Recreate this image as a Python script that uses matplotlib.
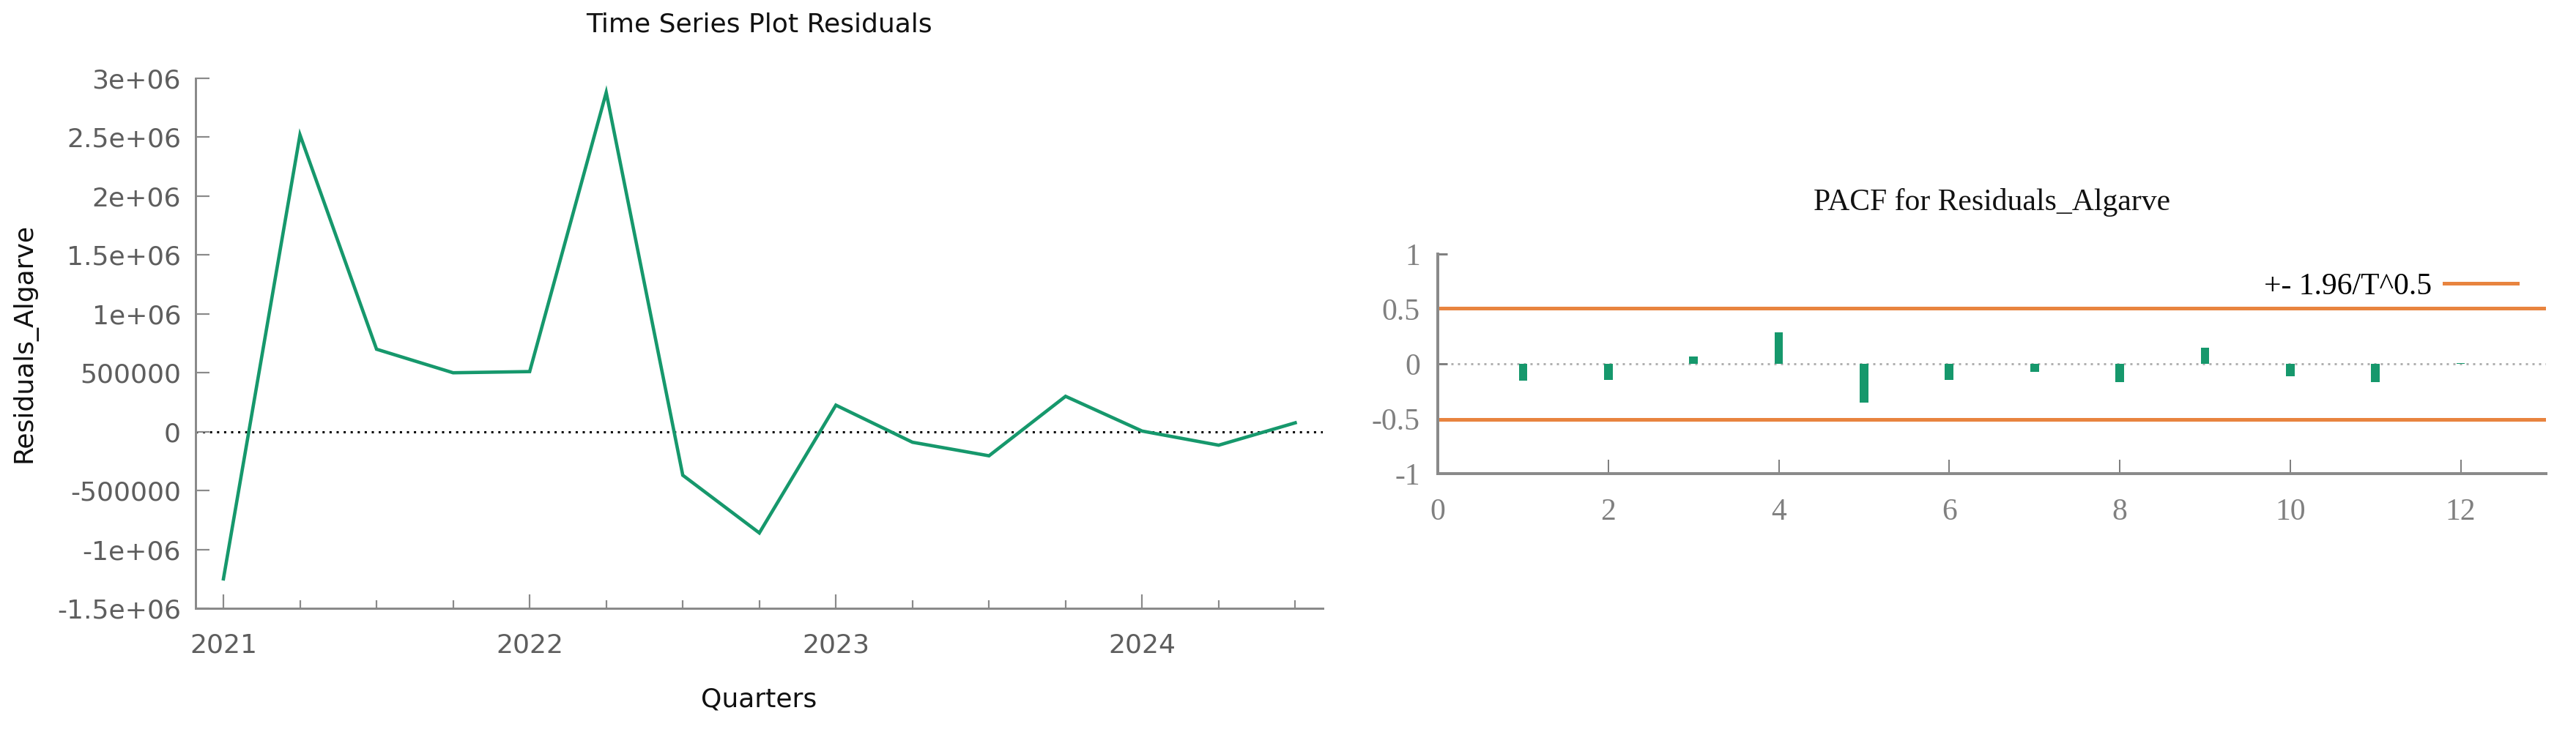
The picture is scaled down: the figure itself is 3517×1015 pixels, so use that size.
import numpy as np
import matplotlib
matplotlib.use("Agg")
import matplotlib.pyplot as plt
from matplotlib.ticker import FixedLocator

# ======================
# data
# ======================
quarters = [2021.0, 2021.25, 2021.5, 2021.75,
            2022.0, 2022.25, 2022.5, 2022.75,
            2023.0, 2023.25, 2023.5, 2023.75,
            2024.0, 2024.25, 2024.5]
residuals = [-1250000, 2520000, 700000, 500000,
             510000, 2880000, -370000, -860000,
             225000, -90000, -205000, 300000,
             5000, -115000, 75000]

year_ticks = [2021, 2022, 2023, 2024]
res_yticks = [-1.5e6, -1e6, -5e5, 0, 5e5, 1e6, 1.5e6, 2e6, 2.5e6, 3e6]
res_ylabels = ["-1.5e+06", "-1e+06", "-500000", "0", "500000",
               "1e+06", "1.5e+06", "2e+06", "2.5e+06", "3e+06"]

lags = [1, 2, 3, 4, 5, 6, 7, 8, 9, 10, 11, 12]
pacf = [-0.15, -0.145, 0.07, 0.285, -0.355, -0.145,
        -0.07, -0.165, 0.145, -0.115, -0.165, 0.006]
n_obs = 15
band = 1.96 / n_obs ** 0.5

pacf_xticks = [0, 2, 4, 6, 8, 10, 12]
pacf_yticks = [-1, -0.5, 0, 0.5, 1]
pacf_ylabels = ["-1", "-0.5", "0", "0.5", "1"]

green = "#16986c"
orange = "#e8843f"
spine_gray = "#8a8a8a"

W, H = 3517, 1015
fig = plt.figure(figsize=(W / 100, H / 100), dpi=100)


def px(v):
    # pixels -> points at 100 dpi
    return v * 72 / 100


# ======================
# left: residual time series
# ======================
sans = "DejaVu Sans"
ax1 = fig.add_axes([267 / W, 1 - 831 / H, (1806 - 267) / W, (831 - 107) / H])
ax1.plot(quarters, residuals, color=green, lw=px(4.6), solid_joinstyle="miter")
ax1.axhline(0, color="black", lw=px(3), ls=(0, (1, 2.2)), zorder=1)
ax1.set_xlim(2020.909, 2024.59)
ax1.set_ylim(-1.5e6, 3e6)
ax1.set_yticks(res_yticks)
ax1.set_yticklabels(res_ylabels)
ax1.set_xticks(year_ticks)
ax1.set_xticklabels([str(y) for y in year_ticks])
ax1.xaxis.set_minor_locator(FixedLocator(quarters))
for s in ["top", "right"]:
    ax1.spines[s].set_visible(False)
for s in ["left", "bottom"]:
    ax1.spines[s].set_color(spine_gray)
    ax1.spines[s].set_linewidth(px(3))
ax1.tick_params(axis="both", which="major", direction="in", length=px(19),
                width=px(2.2), color=spine_gray, labelcolor="#5e5e5e",
                labelsize=26)
ax1.tick_params(axis="x", which="major", pad=px(34))
ax1.tick_params(axis="y", which="major", pad=px(20))
ax1.tick_params(axis="x", which="minor", direction="in", length=px(11),
                width=px(2.2), color=spine_gray)
for lab in ax1.get_xticklabels() + ax1.get_yticklabels():
    lab.set_family(sans)

fig.text(1036 / W, 1 - 33 / H, "Time Series Plot Residuals", ha="center",
         va="center", fontsize=26, family=sans, color="#111111")
fig.text(1036 / W, 1 - 955 / H, "Quarters", ha="center", va="center",
         fontsize=26, family=sans, color="#111111")
fig.text(33 / W, 1 - 468 / H, "Residuals_Algarve", ha="center", va="center",
         rotation=90, fontsize=26, family=sans, color="#111111")

# ======================
# right: PACF
# ======================
serif = "Liberation Serif"
ax2 = fig.add_axes([1963 / W, 1 - 647 / H, (3476 - 1963) / W, (647 - 347) / H])
ax2.bar(lags, pacf, width=0.1, color=green, zorder=3)
ax2.axhline(0, color="#b0b0b0", lw=px(3), ls=(0, (1, 2.0)), zorder=1)
ax2.axhline(band, color=orange, lw=px(5), zorder=2, label="+- 1.96/T^0.5")
ax2.axhline(-band, color=orange, lw=px(5), zorder=2)
ax2.set_xlim(0, 13)
ax2.set_ylim(-1, 1)
ax2.set_xticks(pacf_xticks)
ax2.set_yticks(pacf_yticks)
ax2.set_yticklabels(pacf_ylabels)
for s in ["top", "right"]:
    ax2.spines[s].set_visible(False)
for s in ["left", "bottom"]:
    ax2.spines[s].set_color(spine_gray)
    ax2.spines[s].set_linewidth(px(4))
ax2.tick_params(axis="x", direction="in", length=px(19), width=px(1.6),
                color="#606060", labelcolor="#808080", labelsize=30,
                pad=px(33))
ax2.tick_params(axis="y", direction="in", length=px(13), width=px(3),
                color="#808080", labelcolor="#808080", labelsize=30,
                pad=px(24))
for lab in ax2.get_xticklabels() + ax2.get_yticklabels():
    lab.set_family(serif)

leg = ax2.legend(loc="upper right", bbox_to_anchor=(3437 / W, 1 - 372 / H),
                 bbox_transform=fig.transFigure, frameon=False,
                 markerfirst=False, handlelength=2.4, handletextpad=0.4,
                 borderpad=0, borderaxespad=0,
                 prop={"family": serif, "size": 30})

fig.text(2720 / W, 1 - 276 / H, "PACF for Residuals_Algarve", ha="center",
         va="center", fontsize=30, family=serif, color="#111111")

fig.savefig("out.png", dpi=100, facecolor="white")
